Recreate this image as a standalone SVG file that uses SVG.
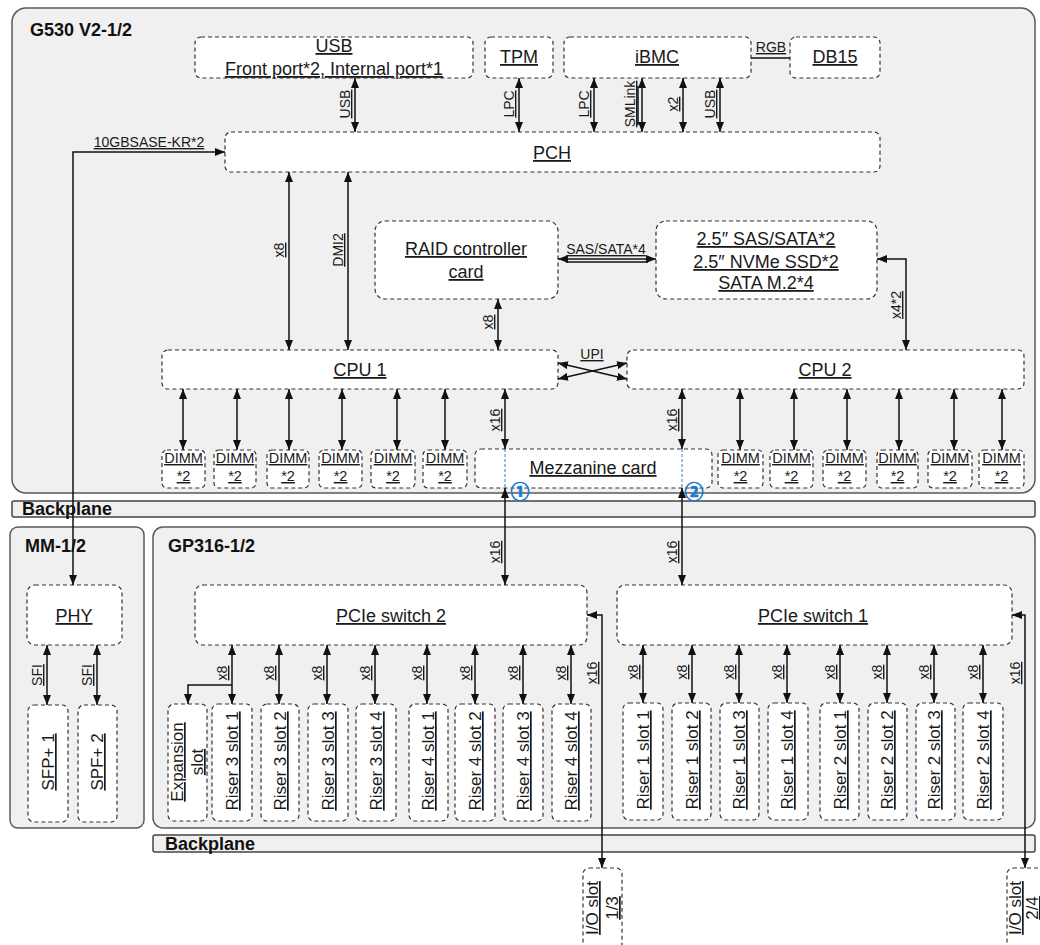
<svg xmlns="http://www.w3.org/2000/svg" width="1040" height="945" viewBox="0 0 1040 945">
<defs>
<marker id="a" viewBox="0 0 10 8" refX="10" refY="4" markerWidth="10" markerHeight="8" markerUnits="userSpaceOnUse" orient="auto-start-reverse"><path d="M0,0 L10,4 L0,8 z" fill="#111"/></marker>
<style>
.cont{fill:#f0f0f0;stroke:#595959;stroke-width:1.5}
.bp{fill:#f0f0f0;stroke:#444;stroke-width:1.5}
.box{fill:#fff;stroke:#333;stroke-width:1.2;stroke-dasharray:4 3}
.t{font-family:"Liberation Sans",Arial,sans-serif;font-size:18px;fill:#1a1a1a;text-anchor:middle;text-decoration:underline}
.d{font-size:14.5px}
.s{font-size:17px}
.l{font-size:14px}
.ttl{font-family:"Liberation Sans",Arial,sans-serif;font-size:18px;font-weight:bold;fill:#111}
.c{fill:none;stroke:#111;stroke-width:1.5;marker-start:url(#a);marker-end:url(#a)}
.ce{fill:none;stroke:#111;stroke-width:1.5;marker-end:url(#a)}
.p{fill:none;stroke:#111;stroke-width:1.5}
.blue{fill:none;stroke:#2a7fc9;stroke-width:1;stroke-dasharray:3 2}
.num{font-family:"Noto Sans CJK SC","DejaVu Sans",sans-serif;font-size:19px;font-weight:bold;fill:#1f7bd0;stroke:#1f7bd0;stroke-width:0.7;text-anchor:middle}
</style>
</defs>

<!-- containers -->
<g id="g530"><rect class="cont" x="12" y="8" width="1023" height="485" rx="14"/><text class="ttl" x="30" y="36">G530 V2-1/2</text></g>
<g id="backplane1"><rect class="bp" x="12" y="501" width="1023" height="16" rx="2"/><text class="ttl" x="22" y="515">Backplane</text></g>
<g id="mm"><rect class="cont" x="10" y="527" width="134" height="301" rx="8"/><text class="ttl" x="25" y="552">MM-1/2</text></g>
<g id="gp316"><rect class="cont" x="153" y="527" width="882" height="301" rx="10"/><text class="ttl" x="168" y="552">GP316-1/2</text></g>
<g id="backplane2"><rect class="bp" x="153" y="835" width="882" height="17" rx="2"/><text class="ttl" x="165" y="850">Backplane</text></g>

<!-- top nodes -->
<g id="usb"><rect class="box" x="195" y="37" width="278" height="41" rx="6"/><text class="t" x="334" y="52">USB</text><text class="t" x="334" y="75">Front port*2, Internal port*1</text></g>
<g id="tpm"><rect class="box" x="485" y="37" width="68" height="41" rx="6"/><text class="t" x="519" y="63">TPM</text></g>
<g id="ibmc"><rect class="box" x="564" y="37" width="187" height="41" rx="6"/><text class="t" x="657" y="63">iBMC</text></g>
<g id="db15"><rect class="box" x="790" y="37" width="90" height="41" rx="6"/><text class="t" x="835" y="63">DB15</text></g>
<g id="pch"><rect class="box" x="225" y="132" width="655" height="40" rx="6"/><text class="t" x="552" y="159">PCH</text></g>
<g id="raid"><rect class="box" x="375" y="221" width="183" height="78" rx="10"/><text class="t" x="466" y="255">RAID controller</text><text class="t" x="466" y="278">card</text></g>
<g id="storage"><rect class="box" x="656" y="221" width="221" height="78" rx="10"/><text class="t" x="766" y="245">2.5″ SAS/SATA*2</text><text class="t" x="766" y="268">2.5″ NVMe SSD*2</text><text class="t" x="766" y="289">SATA M.2*4</text></g>
<g id="cpu1"><rect class="box" x="162" y="350" width="396" height="39" rx="6"/><text class="t" x="360" y="376">CPU 1</text></g>
<g id="cpu2"><rect class="box" x="627" y="350" width="397" height="39" rx="6"/><text class="t" x="825" y="376">CPU 2</text></g>

<!-- DIMMs -->
<g id="dimm1"><rect class="box" x="162" y="450" width="43" height="38" rx="5"/><text class="t d" x="183.5" y="463">DIMM</text><text class="t d" x="183.5" y="481">*2</text></g>
<g id="dimm2"><rect class="box" x="214" y="450" width="42" height="38" rx="5"/><text class="t d" x="235" y="463">DIMM</text><text class="t d" x="235" y="481">*2</text></g>
<g id="dimm3"><rect class="box" x="267" y="450" width="42" height="38" rx="5"/><text class="t d" x="288" y="463">DIMM</text><text class="t d" x="288" y="481">*2</text></g>
<g id="dimm4"><rect class="box" x="319" y="450" width="43" height="38" rx="5"/><text class="t d" x="340.5" y="463">DIMM</text><text class="t d" x="340.5" y="481">*2</text></g>
<g id="dimm5"><rect class="box" x="371" y="450" width="44" height="38" rx="5"/><text class="t d" x="393" y="463">DIMM</text><text class="t d" x="393" y="481">*2</text></g>
<g id="dimm6"><rect class="box" x="423" y="450" width="44" height="38" rx="5"/><text class="t d" x="445" y="463">DIMM</text><text class="t d" x="445" y="481">*2</text></g>
<g id="dimm7"><rect class="box" x="718" y="450" width="45" height="38" rx="5"/><text class="t d" x="740.5" y="463">DIMM</text><text class="t d" x="740.5" y="481">*2</text></g>
<g id="dimm8"><rect class="box" x="770" y="450" width="43" height="38" rx="5"/><text class="t d" x="791.5" y="463">DIMM</text><text class="t d" x="791.5" y="481">*2</text></g>
<g id="dimm9"><rect class="box" x="823" y="450" width="43" height="38" rx="5"/><text class="t d" x="844.5" y="463">DIMM</text><text class="t d" x="844.5" y="481">*2</text></g>
<g id="dimm10"><rect class="box" x="877" y="450" width="41" height="38" rx="5"/><text class="t d" x="897.5" y="463">DIMM</text><text class="t d" x="897.5" y="481">*2</text></g>
<g id="dimm11"><rect class="box" x="928" y="450" width="44" height="38" rx="5"/><text class="t d" x="950" y="463">DIMM</text><text class="t d" x="950" y="481">*2</text></g>
<g id="dimm12"><rect class="box" x="979" y="450" width="45" height="38" rx="5"/><text class="t d" x="1001.5" y="463">DIMM</text><text class="t d" x="1001.5" y="481">*2</text></g>

<g id="mezz"><rect class="box" x="475" y="449" width="237" height="39" rx="6"/><path class="blue" d="M505,449 V488 M682,449 V488"/><text class="t" x="593" y="474">Mezzanine card</text><text class="num" x="520" y="499">①</text><text class="num" x="694" y="499">②</text></g>

<!-- MM -->
<g id="phy"><rect class="box" x="27" y="585" width="95" height="60" rx="8"/><text class="t" x="74" y="622">PHY</text></g>
<g id="sfp1"><rect class="box" x="28" y="705" width="40" height="117" rx="6"/><text class="t s" transform="translate(54,762) rotate(-90)">SFP+ 1</text></g>
<g id="spf2"><rect class="box" x="78" y="705" width="39" height="117" rx="6"/><text class="t s" transform="translate(103,762) rotate(-90)">SPF+ 2</text></g>

<!-- GP316 -->
<g id="sw2"><rect class="box" x="195" y="585" width="392" height="60" rx="8"/><text class="t" x="391" y="622">PCIe switch 2</text></g>
<g id="sw1"><rect class="box" x="617" y="585" width="395" height="60" rx="8"/><text class="t" x="813" y="622">PCIe switch 1</text></g>

<g id="exp"><rect class="box" x="168" y="704" width="39" height="117" rx="6"/><text class="t s" transform="translate(183,762) rotate(-90)">Expansion</text><text class="t s" transform="translate(203,762) rotate(-90)">slot</text></g>
<g id="r3s1"><rect class="box" x="212" y="704" width="40" height="117" rx="6"/><text class="t s" transform="translate(238,761) rotate(-90)">Riser 3 slot 1</text></g>
<g id="r3s2"><rect class="box" x="261" y="704" width="38" height="117" rx="6"/><text class="t s" transform="translate(286,761) rotate(-90)">Riser 3 slot 2</text></g>
<g id="r3s3"><rect class="box" x="308" y="704" width="40" height="117" rx="6"/><text class="t s" transform="translate(334,761) rotate(-90)">Riser 3 slot 3</text></g>
<g id="r3s4"><rect class="box" x="356" y="704" width="40" height="117" rx="6"/><text class="t s" transform="translate(382,761) rotate(-90)">Riser 3 slot 4</text></g>
<g id="r4s1"><rect class="box" x="409" y="704" width="39" height="117" rx="6"/><text class="t s" transform="translate(434,761) rotate(-90)">Riser 4 slot 1</text></g>
<g id="r4s2"><rect class="box" x="455" y="704" width="40" height="117" rx="6"/><text class="t s" transform="translate(481,761) rotate(-90)">Riser 4 slot 2</text></g>
<g id="r4s3"><rect class="box" x="503" y="704" width="40" height="117" rx="6"/><text class="t s" transform="translate(529,761) rotate(-90)">Riser 4 slot 3</text></g>
<g id="r4s4"><rect class="box" x="552" y="704" width="39" height="117" rx="6"/><text class="t s" transform="translate(577,761) rotate(-90)">Riser 4 slot 4</text></g>

<g id="r1s1"><rect class="box" x="623" y="703" width="40" height="117" rx="6"/><text class="t s" transform="translate(649,760) rotate(-90)">Riser 1 slot 1</text></g>
<g id="r1s2"><rect class="box" x="672" y="703" width="39" height="117" rx="6"/><text class="t s" transform="translate(698,760) rotate(-90)">Riser 1 slot 2</text></g>
<g id="r1s3"><rect class="box" x="720" y="703" width="39" height="117" rx="6"/><text class="t s" transform="translate(745,760) rotate(-90)">Riser 1 slot 3</text></g>
<g id="r1s4"><rect class="box" x="768" y="703" width="40" height="117" rx="6"/><text class="t s" transform="translate(793,760) rotate(-90)">Riser 1 slot 4</text></g>
<g id="r2s1"><rect class="box" x="820" y="703" width="39" height="117" rx="6"/><text class="t s" transform="translate(846,760) rotate(-90)">Riser 2 slot 1</text></g>
<g id="r2s2"><rect class="box" x="868" y="703" width="39" height="117" rx="6"/><text class="t s" transform="translate(893,760) rotate(-90)">Riser 2 slot 2</text></g>
<g id="r2s3"><rect class="box" x="916" y="703" width="39" height="117" rx="6"/><text class="t s" transform="translate(940,760) rotate(-90)">Riser 2 slot 3</text></g>
<g id="r2s4"><rect class="box" x="963" y="703" width="40" height="117" rx="6"/><text class="t s" transform="translate(989,760) rotate(-90)">Riser 2 slot 4</text></g>

<g id="io13"><rect class="box" x="583" y="868" width="39" height="100" rx="6"/><text class="t s" transform="translate(598,908) rotate(-90)">I/O slot</text><text class="t s" transform="translate(618,908) rotate(-90)">1/3</text></g>
<g id="io24"><rect class="box" x="1007" y="868" width="39" height="100" rx="6"/><text class="t s" transform="translate(1021,908) rotate(-90)">I/O slot</text><text class="t s" transform="translate(1038,908) rotate(-90)">2/4</text></g>

<!-- connectors -->
<g id="connectors">
<path class="c" d="M355,78 V132"/>
<path class="c" d="M519,78 V132"/>
<path class="c" d="M594,78 V132"/>
<path class="c" d="M642,78 V132"/><path class="p" d="M638,86 V125" stroke-width="1"/>
<path class="c" d="M683,78 V132"/>
<path class="c" d="M720,78 V132"/>
<path class="p" d="M751,58 H790" stroke-width="2"/>
<path class="c" d="M225,152 H73 V585"/>
<path class="c" d="M289,172 V350"/>
<path class="c" d="M348,172 V350"/>
<path class="c" d="M558,259 H656"/><path class="p" d="M566,262 H648" stroke-width="1"/>
<path class="c" d="M877,259 H906 V350"/>
<path class="c" d="M498,299 V350"/>
<path class="c" d="M558,363 L627,379"/>
<path class="c" d="M558,379 L627,363"/>
<path class="c" d="M183,389 V450"/><path class="c" d="M237,389 V450"/><path class="c" d="M289,389 V450"/><path class="c" d="M342,389 V450"/><path class="c" d="M397,389 V450"/><path class="c" d="M445,389 V450"/>
<path class="c" d="M505,389 V449"/>
<path class="c" d="M682,389 V449"/>
<path class="c" d="M740,389 V450"/><path class="c" d="M794,389 V450"/><path class="c" d="M847,389 V450"/><path class="c" d="M899,389 V450"/><path class="c" d="M954,389 V450"/><path class="c" d="M1002,389 V450"/>
<path class="c" d="M505,488 V585"/>
<path class="c" d="M682,488 V585"/>
<path class="c" d="M47,645 V705"/><path class="c" d="M97,645 V705"/>
<path class="c" d="M232,645 V704"/><path class="c" d="M279,645 V704"/><path class="c" d="M327,645 V704"/><path class="c" d="M375,645 V704"/><path class="c" d="M427,645 V704"/><path class="c" d="M475,645 V704"/><path class="c" d="M523,645 V704"/><path class="c" d="M571,645 V704"/>
<path class="ce" d="M232,685 H188 V704"/>
<path class="c" d="M587,615 H602 V868"/>
<path class="c" d="M643,645 V703"/><path class="c" d="M692,645 V703"/><path class="c" d="M739,645 V703"/><path class="c" d="M787,645 V703"/><path class="c" d="M840,645 V703"/><path class="c" d="M887,645 V703"/><path class="c" d="M934,645 V703"/><path class="c" d="M983,645 V703"/>
<path class="c" d="M1012,615 H1025 V868"/>
<!-- labels -->
<text class="t l" transform="translate(350,104) rotate(-90)">USB</text>
<text class="t l" transform="translate(514,104) rotate(-90)">LPC</text>
<text class="t l" transform="translate(589,104) rotate(-90)">LPC</text>
<text class="t l" transform="translate(635,104) rotate(-90)">SMLink</text>
<text class="t l" transform="translate(678,104) rotate(-90)">x2</text>
<text class="t l" transform="translate(715,104) rotate(-90)">USB</text>
<text class="t l" x="771" y="52">RGB</text>
<text class="t l" x="149" y="147">10GBSASE-KR*2</text>
<text class="t l" transform="translate(284,250) rotate(-90)">x8</text>
<text class="t l" transform="translate(343,250) rotate(-90)">DMI2</text>
<text class="t l" x="606" y="254">SAS/SATA*4</text>
<text class="t l" transform="translate(901,305) rotate(-90)">x4*2</text>
<text class="t l" transform="translate(493,322) rotate(-90)">x8</text>
<text class="t l" x="592" y="359">UPI</text>
<text class="t l" transform="translate(500,420) rotate(-90)">x16</text>
<text class="t l" transform="translate(677,420) rotate(-90)">x16</text>
<text class="t l" transform="translate(500,552) rotate(-90)">x16</text>
<text class="t l" transform="translate(677,552) rotate(-90)">x16</text>
<text class="t l" transform="translate(42,675) rotate(-90)">SFI</text>
<text class="t l" transform="translate(92,675) rotate(-90)">SFI</text>
<text class="t l" transform="translate(227,673) rotate(-90)">x8</text>
<text class="t l" transform="translate(274,673) rotate(-90)">x8</text>
<text class="t l" transform="translate(322,673) rotate(-90)">x8</text>
<text class="t l" transform="translate(370,673) rotate(-90)">x8</text>
<text class="t l" transform="translate(422,673) rotate(-90)">x8</text>
<text class="t l" transform="translate(470,673) rotate(-90)">x8</text>
<text class="t l" transform="translate(518,673) rotate(-90)">x8</text>
<text class="t l" transform="translate(566,673) rotate(-90)">x8</text>
<text class="t l" transform="translate(597,673) rotate(-90)">x16</text>
<text class="t l" transform="translate(638,672) rotate(-90)">x8</text>
<text class="t l" transform="translate(687,672) rotate(-90)">x8</text>
<text class="t l" transform="translate(734,672) rotate(-90)">x8</text>
<text class="t l" transform="translate(782,672) rotate(-90)">x8</text>
<text class="t l" transform="translate(835,672) rotate(-90)">x8</text>
<text class="t l" transform="translate(882,672) rotate(-90)">x8</text>
<text class="t l" transform="translate(929,672) rotate(-90)">x8</text>
<text class="t l" transform="translate(978,672) rotate(-90)">x8</text>
<text class="t l" transform="translate(1020,673) rotate(-90)">x16</text>
</g>
</svg>
